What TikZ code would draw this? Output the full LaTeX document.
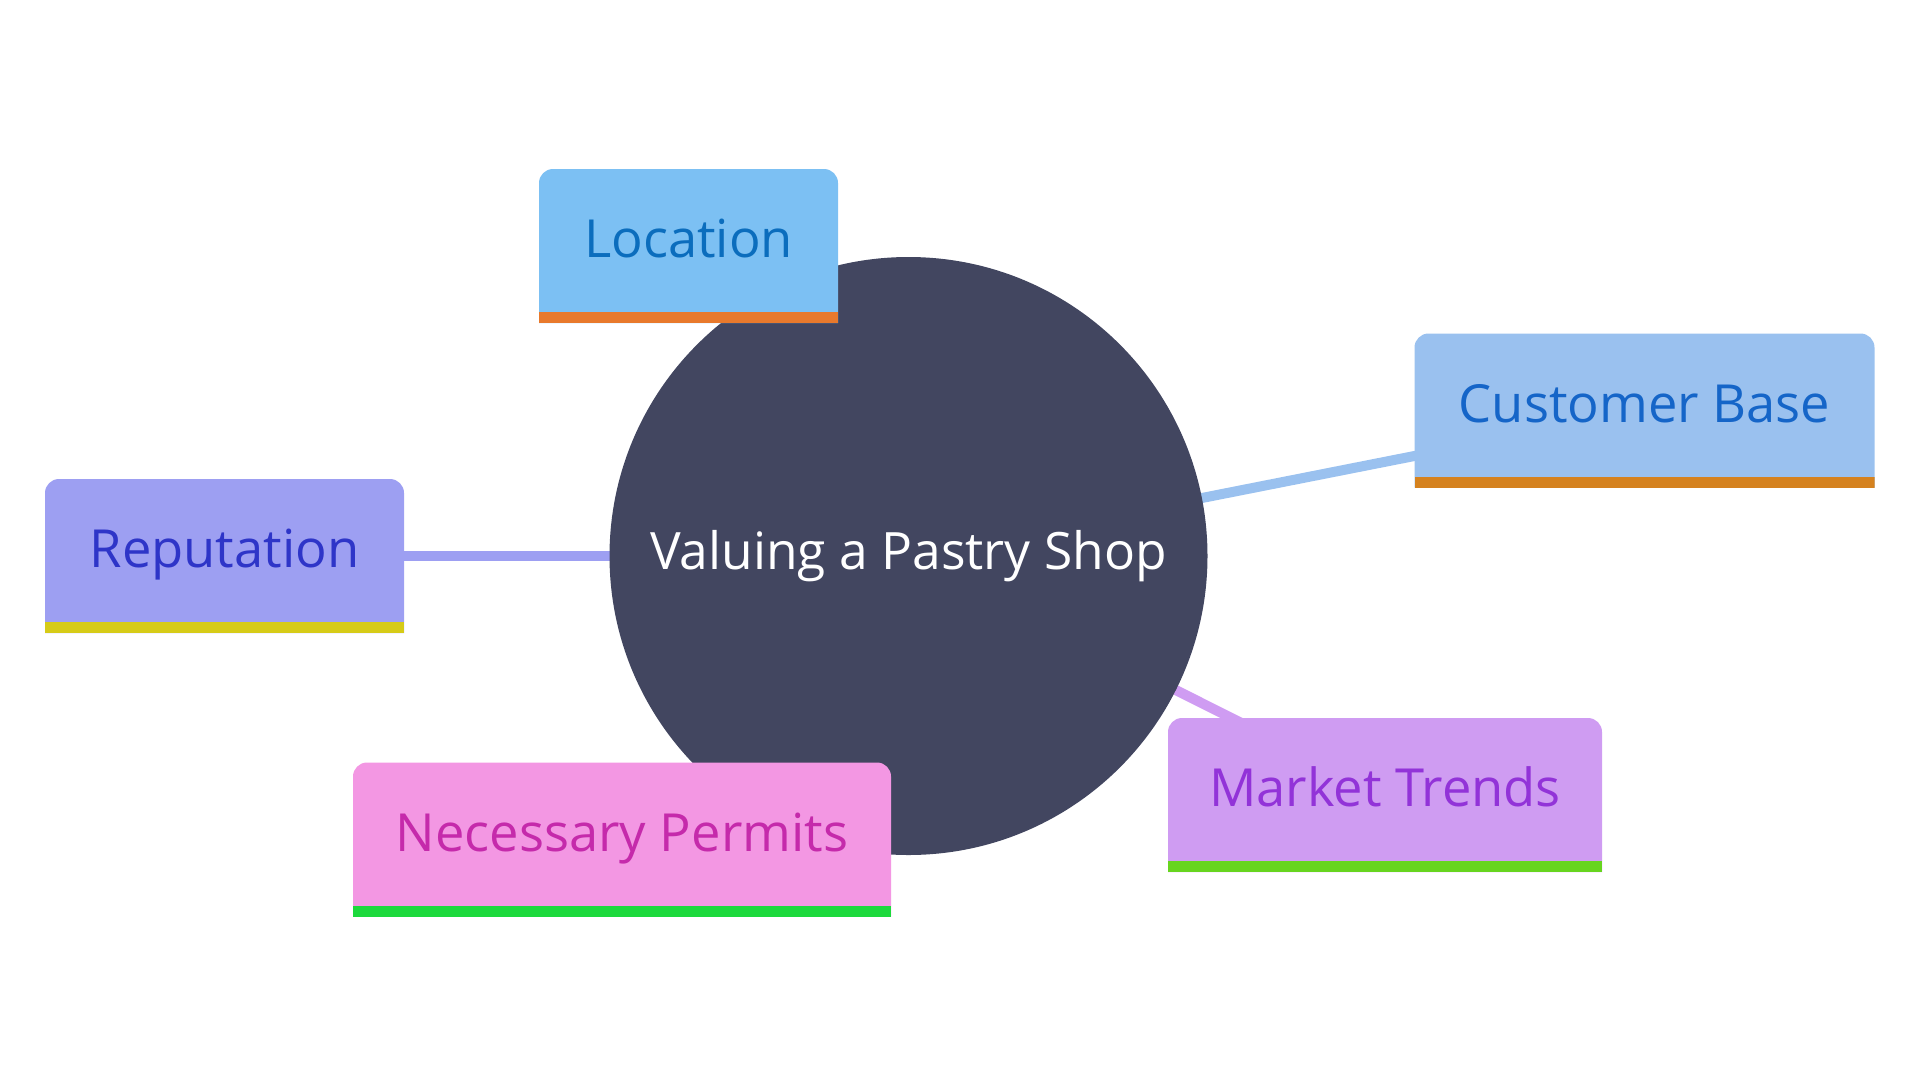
\documentclass[tikz,border=0pt]{standalone}
\usepackage{fontspec}
\setmainfont{Open Sans}
\definecolor{discfill}{HTML}{424660}
\definecolor{locfill}{HTML}{7CC0F3}
\definecolor{loctext}{HTML}{0B6DBD}
\definecolor{locbar}{HTML}{E8792C}
\definecolor{cusfill}{HTML}{9AC1EF}
\definecolor{custext}{HTML}{1565C8}
\definecolor{cusbar}{HTML}{D5821F}
\definecolor{repfill}{HTML}{9D9FF2}
\definecolor{reptext}{HTML}{2E35C8}
\definecolor{repbar}{HTML}{D6CB17}
\definecolor{perfill}{HTML}{F397E3}
\definecolor{pertext}{HTML}{C52AAB}
\definecolor{perbar}{HTML}{1CD93C}
\definecolor{marfill}{HTML}{CF9CF2}
\definecolor{martext}{HTML}{9233D8}
\definecolor{marbar}{HTML}{67D51F}
\begin{document}
\begin{tikzpicture}[x=1pt,y=-1pt]
		\tikzstyle{disque} = [circle,fill=discfill,text=white,minimum size=598pt,inner sep=0pt,font=\fontsize{51.5}{60}\selectfont]
		\tikzstyle{theme} = [rectangle,minimum height=154pt,inner sep=0pt,text height=23pt,text depth=0pt,
			text=#1text,font=\fontsize{52.5}{60}\selectfont,
			path picture={
				\fill[#1fill,rounded corners=14pt] (path picture bounding box.south west)
					|- (path picture bounding box.north east) -- (path picture bounding box.south east);
				\fill[#1bar] (path picture bounding box.south west) rectangle ([yshift=11pt]path picture bounding box.south east);
			}]
		\tikzstyle{lien} = [line width=10pt,#1fill]
		\useasboundingbox (0,0) rectangle (1920,1080);
		
		\coordinate (C) at (908.5,556);
		\coordinate (L) at (688.5,246);
		\coordinate (B) at (1644.5,410.5);
		\coordinate (R) at (224.5,556);
		\coordinate (P) at (622,839.5);
		\coordinate (M) at (1385,795);
		
		\draw[lien=loc] (C) -- (L);
		\draw[lien=cus] (C) -- (B);
		\draw[lien=rep] (C) -- (R);
		\draw[lien=per] (C) -- (P);
		\draw[lien=mar] (C) -- (M);
		
		\node[disque](centre) at (C) {Valuing a Pastry Shop};
		
		\node[theme=loc,minimum width=299pt](loc) at (L) {Location};
		\node[theme=cus,minimum width=460pt](cus) at (B) {Customer Base};
		\node[theme=rep,minimum width=359pt](rep) at (R) {Reputation};
		\node[theme=per,minimum width=538pt](per) at (P) {Necessary Permits};
		\node[theme=mar,minimum width=434pt](mar) at (M) {Market Trends};
		
		\end{tikzpicture}
\end{document}
